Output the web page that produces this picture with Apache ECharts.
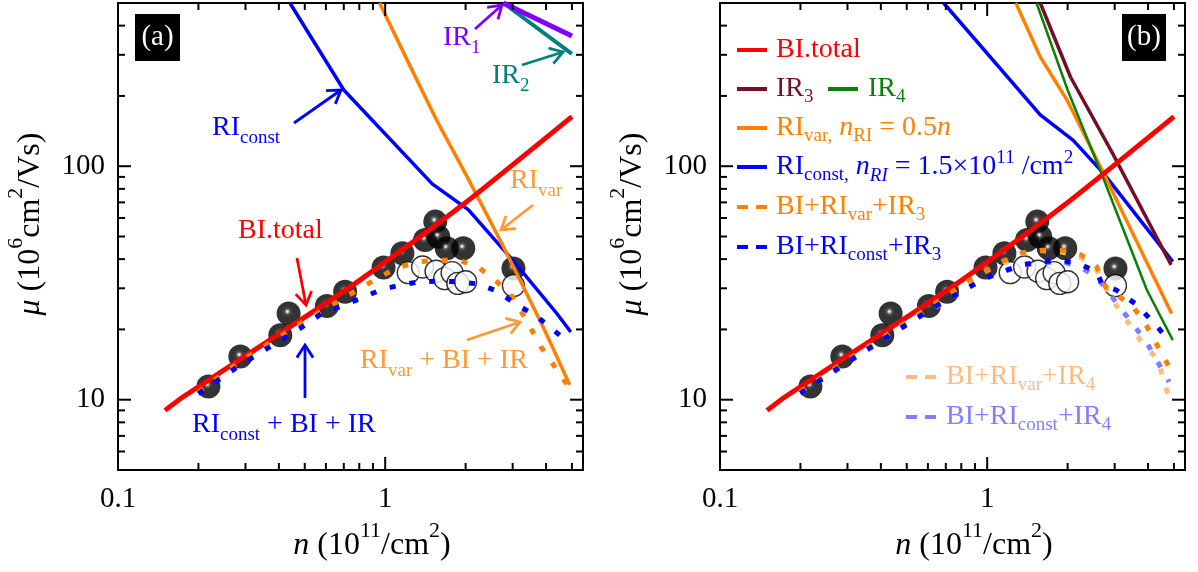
<!DOCTYPE html>
<html><head><meta charset="utf-8">
<script src="https://cdn.jsdelivr.net/npm/echarts@6/dist/echarts.min.js"></script>
<style>html,body{margin:0;padding:0;background:#fff}#c{width:1198px;height:572px}</style>
</head><body><div id="c"></div>
<script>
// ---------------- data ----------------
const spheres = [[0.218,11.4],[0.287,15.3],[0.405,18.9],[0.435,23.4],[0.605,25.2],[0.708,29.0],[0.986,36.8],[1.16,42.4],[1.41,48.3],[1.54,57.9],[1.58,49.9],[1.70,44.5],[1.96,44.5],[3.02,36.5]];
const openCircles = [[1.22,35],[1.38,37],[1.55,35.5],[1.67,33],[1.78,35],[1.87,31.5],[2.0,32],[3.02,30.8]];
const biTotal = [[0.15,9.0],[0.1755,10.3],[0.481,21.9],[0.807,32.6],[1.94,68],[5.0,163]];
// panel (a)
const riConstA = [[0.44,500],[0.70,212],[1.5,84],[2.05,65],[3.0,39.6],[4.39,23.4],[4.95,19.5]];
const riVarA = [[0.953,500],[1.53,164],[2.02,90.6],[2.69,48.3],[3.86,21],[4.9,11.6]];
const ir1A = [[2.77,500],[5.0,361]];
const ir2A = [[2.77,500],[5.0,303]];
const sumVarA = [[0.2,10.8],[0.287,14.6],[0.5,21.8],[0.807,30],[0.957,33.6],[1.12,36.9],[1.35,39],[1.61,39.6],[1.88,39.6],[2.23,37],[2.62,32],[3.0,27.5],[3.4,21.6],[3.82,16.9],[4.8,11.6]];
const sumConstA = [[0.2,10.6],[0.287,14.1],[0.48,20.2],[0.57,23.1],[0.81,27.2],[0.96,29.5],[1.14,31],[1.35,32],[1.6,32.2],[1.9,32],[2.23,31.3],[2.62,29.2],[3.05,25.9],[3.7,22.7],[4.5,18.9]];
// panel (b)
const ir3B = [[1.58,500],[2.05,241],[2.94,114],[4.88,37.8]];
const ir4B = [[1.53,500],[2.0,212],[2.73,88],[3.96,29.5],[4.95,18]];
const riVarB = [[1.28,500],[1.58,294],[1.99,192],[2.73,93],[4.9,23.4]];
const riConstB = [[0.687,500],[1.58,166],[2.1,129],[2.73,93],[4.95,39]];
const sumVarIR3B = [[0.2,10.8],[0.3,14.8],[0.5,21.5],[0.684,27],[0.80,31],[0.953,34.8],[1.13,39],[1.345,42.4],[1.6,43.7],[1.9,43.7],[2.25,41.7],[2.57,37.1],[2.77,30.5],[3.52,25],[3.96,20.6],[4.8,13.8]];
const sumConstIR3B = [[0.2,10.65],[0.3,14.5],[0.5,21],[0.684,26.3],[0.802,29],[0.953,32.6],[1.13,35.3],[1.345,37.8],[1.6,39],[1.9,39.6],[2.25,37.8],[2.57,35.3],[2.7,31],[3.04,29.5],[3.63,25.5],[4.27,20.9],[4.88,17.5]];
const sumVarIR4B = [[0.2,10.8],[0.5,21.5],[0.953,34.8],[1.345,42.4],[1.6,43.5],[1.9,43],[2.25,40.5],[2.57,36],[2.89,27.6],[3.70,18.3],[4.35,14.8],[4.8,10.1]];
const sumConstIR4B = [[0.2,10.65],[0.5,21],[0.953,32.6],[1.345,37.6],[1.6,38.6],[1.9,39],[2.25,36.8],[2.57,33.5],[2.9,28],[3.94,17.7],[4.8,11.9]];
// axes
const xRange = [0.1, 5.5];
const yRange = [5, 500];
const xTickValues = [0.1,0.2,0.3,0.4,0.5,0.6,0.7,0.8,0.9,1,2,3,4,5];
const yTickValues = [6,7,8,9,10,20,30,40,50,60,70,80,90,100,200,300,400];
const xTickLabels = ['0.1','1'];
const yTickLabels = ['10','100'];

// ---------------- styling ----------------
const FF = '"Liberation Serif", "Times New Roman", serif';
const C = {red:'#ff0000', blue:'#0000ff', orange:'#ff8000', orangeLbl:'#ff9933', purple:'#8000ff', teal:'#008080',
  maroon:'#750f25', green:'#0a7f0a', lorange:'#fdbb80', lblue:'#8080ff'};
const rects = [{x:118,y:3,w:465,h:467},{x:720,y:3,w:465,h:467}];

function isDecade(v){const l=Math.log10(v);return Math.abs(l-Math.round(l))<1e-6;}
function decadeFmt(list){return function(v){if(!isDecade(v))return '';const r=Math.round(Math.log10(v));const s=r<0?Math.pow(10,r).toFixed(-r):String(Math.pow(10,r));return list.indexOf(s)>=0?s:'';};}

const sphereFill = {type:'radial',x:0.45,y:0.42,r:0.5,colorStops:[
  {offset:0,color:'#ffffff'},{offset:0.08,color:'#d0d0d0'},{offset:0.17,color:'#5a5a5a'},{offset:0.3,color:'#121212'},{offset:0.5,color:'#000000'},{offset:1,color:'#000000'}]};

function scatterS(data, gi, filled){
  return {type:'scatter', xAxisIndex:gi, yAxisIndex:gi, data:data, symbol:'circle', symbolSize: filled?24:22, z: filled?2:3,
    itemStyle: filled?{color:sphereFill,borderWidth:0}:{color:'#ffffff',borderColor:'#000',borderWidth:1.4}, silent:true};
}
function lineS(data, gi, color, width, dash, z, smooth){
  return {type:'line', xAxisIndex:gi, yAxisIndex:gi, data:data, symbol:'none', showSymbol:false, z:z||4, silent:true, clip:true,
    smooth: smooth||false,
    lineStyle:{color:color, width:width, type: dash||'solid', cap:'butt', join:'round'}};
}
const DOT = [6,14];

const xAxisBase = (gi)=>({type:'log', logBase:10, gridIndex:gi, min:xRange[0], max:xRange[1],
  axisLine:{show:false}, axisTick:{show:false}, splitLine:{show:false}, minorTick:{show:false},
  axisLabel:{formatter:decadeFmt(xTickLabels), fontFamily:FF, fontSize:29, color:'#000', margin:15, showMinLabel:true, showMaxLabel:true}});
const yAxisBase = (gi)=>({type:'log', logBase:10, gridIndex:gi, min:yRange[0], max:yRange[1],
  axisLine:{show:false}, axisTick:{show:false}, splitLine:{show:false}, minorTick:{show:false},
  axisLabel:{formatter:decadeFmt(yTickLabels), fontFamily:FF, fontSize:29, color:'#000', margin:13}});

const option = {
  animation:false, backgroundColor:'#ffffff',
  grid: rects.map(r=>({left:r.x, top:r.y, width:r.w, height:r.h, show:true, borderColor:'#000', borderWidth:2, backgroundColor:'transparent', containLabel:false})),
  xAxis:[xAxisBase(0), xAxisBase(1)],
  yAxis:[yAxisBase(0), yAxisBase(1)],
  series:[
    scatterS(spheres,0,true), scatterS(openCircles,0,false),
    lineS(riConstA,0,C.blue,3.5), lineS(riVarA,0,C.orange,3.5,null,4,0.2),
    lineS(ir2A,0,C.teal,4), lineS(ir1A,0,C.purple,5),
    lineS(biTotal,0,C.red,5,null,5,0.2),
    lineS(sumVarA,0,C.orange,5,DOT,6), lineS(sumConstA,0,C.blue,5,DOT,6),

    scatterS(spheres,1,true), scatterS(openCircles,1,false),
    lineS(riConstB,1,C.blue,3.5), lineS(riVarB,1,C.orange,3.5),
    lineS(ir3B,1,C.maroon,3.5), lineS(ir4B,1,C.green,2.5),
    lineS(biTotal,1,C.red,5,null,5,0.2),
    lineS(sumVarIR4B,1,C.lorange,5,DOT,6), lineS(sumConstIR4B,1,C.lblue,5,DOT,6),
    lineS(sumVarIR3B,1,C.orange,5,DOT,7), lineS(sumConstIR3B,1,C.blue,5,DOT,7)
  ]
};

const chart = echarts.init(document.getElementById('c'), null, {renderer:'canvas', width:1198, height:572});
chart.setOption(option);

// ---------------- decorations ----------------
function richSet(size, color, lh, subLH, supLH){
  const s = Math.round(size*0.68);
  const base = {fontFamily:FF, fill:color};
  return {
    m:Object.assign({fontSize:size, lineHeight:lh}, base),
    i:Object.assign({fontSize:size, lineHeight:lh, fontStyle:'italic'}, base),
    b:Object.assign({fontSize:s, lineHeight:subLH, verticalAlign:'bottom'}, base),
    bi:Object.assign({fontSize:s, lineHeight:subLH, verticalAlign:'bottom', fontStyle:'italic'}, base),
    p:Object.assign({fontSize:s, lineHeight:supLH, verticalAlign:'top'}, base)
  };
}
function txt(x, y, text, color, size, opt){
  opt = opt||{};
  const rich = richSet(size, color, opt.lh||40, opt.subLH||20, opt.supLH||20);
  return {type:'text', x:x, y:y, rotation:opt.rot||0, z:100,
    style:{text:text, rich:rich, fill:color, font: size+'px '+FF,
      align:opt.align||'left', verticalAlign:'middle', textAlign:opt.align||'left', textVerticalAlign:'middle'}};
}
function seg(x1,y1,x2,y2,color,w,dash){
  return {type:'line', z:90, shape:{x1:x1,y1:y1,x2:x2,y2:y2}, style:{stroke:color, lineWidth:w, lineDash:dash||null, lineCap:'butt'}};
}
function arrow(x1,y1,x2,y2,color){
  const a = Math.atan2(y2-y1,x2-x1), L=15, h=Math.PI/5.5;
  return [seg(x1,y1,x2,y2,color,2.8),
    {type:'polyline', z:90, shape:{points:[[x2-L*Math.cos(a-h), y2-L*Math.sin(a-h)],[x2,y2],[x2-L*Math.cos(a+h), y2-L*Math.sin(a+h)]]},
     style:{stroke:color, lineWidth:2.8, fill:null, lineJoin:'miter'}}];
}
function ticks(gi){
  const r = rects[gi], out=[];
  xTickValues.forEach(v=>{
    const px = chart.convertToPixel({xAxisIndex:gi}, v);
    const L = isDecade(v)?13:7;
    out.push(seg(px, r.y+r.h, px, r.y+r.h-L, '#000', 2));
    out.push(seg(px, r.y, px, r.y+L, '#000', 2));
  });
  yTickValues.forEach(v=>{
    const py = chart.convertToPixel({yAxisIndex:gi}, v);
    const L = isDecade(v)?13:7;
    out.push(seg(r.x, py, r.x+L, py, '#000', 2));
    out.push(seg(r.x+r.w, py, r.x+r.w-L, py, '#000', 2));
  });
  return out;
}

const TT = {lh:52, supLH:14};
let g = [];
g = g.concat(ticks(0), ticks(1));
// axis titles
[0,1].forEach(gi=>{
  const dx = gi===0?0:602;
  g.push(txt(372+dx, 546, '{i|n}{m| (10}{p|11}{m|/cm}{p|2}{m|)}', '#000', 32, {align:'center', lh:TT.lh, supLH:TT.supLH}));
  g.push(txt(31+dx, 224, '{i|μ}{m| (10}{p|6}{m|cm}{p|2}{m|/Vs)}', '#000', 32, {align:'center', rot:Math.PI/2, lh:TT.lh, supLH:TT.supLH}));
});
// panel tags
g.push({type:'rect', z:95, shape:{x:135,y:14,width:45,height:47}, style:{fill:'#000'}});
g.push(txt(157.5, 37.5, '{m|(a)}', '#fff', 29, {align:'center'}));
g.push({type:'rect', z:95, shape:{x:1122,y:14,width:44,height:47}, style:{fill:'#000'}});
g.push(txt(1144, 37.5, '{m|(b)}', '#fff', 29, {align:'center'}));

// panel (a) annotations
g.push(txt(443, 38, '{m|IR}{b|1}', C.purple, 28));
g = g.concat(arrow(475, 29, 502, 5, C.purple));
g.push(txt(492, 76, '{m|IR}{b|2}', C.teal, 28));
g = g.concat(arrow(522, 65, 563, 52, C.teal));
g.push(txt(212, 128, '{m|RI}{b|const}', C.blue, 28));
g = g.concat(arrow(294, 123, 341, 90, C.blue));
g.push(txt(238, 231, '{m|BI.total}', C.red, 28));
g = g.concat(arrow(297, 258, 306, 305, C.red));
g = g.concat(arrow(305, 398, 305, 345, C.blue));
g.push(txt(192, 425, '{m|RI}{b|const}{m| + BI + IR}', C.blue, 28));
g.push(txt(510, 181, '{m|RI}{b|var}', C.orangeLbl, 28));
g = g.concat(arrow(533, 205, 501, 230, C.orangeLbl));
g.push(txt(360, 361, '{m|RI}{b|var}{m| + BI + IR}', C.orangeLbl, 28));
g = g.concat(arrow(467, 340, 520, 322, C.orangeLbl));

// panel (b) legend
const LX = 737, TX = 776;
g.push(seg(LX,50,LX+30,50,C.red,4)); g.push(txt(TX,50,'{m|BI.total}',C.red,28,{lh:36}));
g.push(seg(LX,89,LX+30,89,C.maroon,4)); g.push(txt(TX,89,'{m|IR}{b|3}',C.maroon,28,{lh:36}));
g.push(seg(828,89,858,89,C.green,4)); g.push(txt(868,89,'{m|IR}{b|4}',C.green,28,{lh:36}));
g.push(seg(LX,128,LX+30,128,C.orange,4)); g.push(txt(TX,128,'{m|RI}{b|var,}{m| }{i|n}{b|RI}{m| = 0.5}{i|n}',C.orange,28,{lh:36}));
g.push(seg(LX,167,LX+30,167,C.blue,4)); g.push(txt(TX,167,'{m|RI}{b|const,}{m| }{i|n}{bi|RI}{m| = 1.5×10}{p|11}{m| /cm}{p|2}',C.blue,28,{lh:36}));
g.push(seg(LX,207,LX+30,207,C.orange,4,[11,8])); g.push(txt(TX,207,'{m|BI+RI}{b|var}{m|+IR}{b|3}',C.orange,28,{lh:36}));
g.push(seg(LX,247,LX+30,247,C.blue,4,[11,8])); g.push(txt(TX,247,'{m|BI+RI}{b|const}{m|+IR}{b|3}',C.blue,28,{lh:36}));
g.push(seg(906,377,936,377,C.lorange,4,[11,8])); g.push(txt(946,377,'{m|BI+RI}{b|var}{m|+IR}{b|4}',C.lorange,28,{lh:36}));
g.push(seg(906,417,936,417,C.lblue,4,[11,8])); g.push(txt(946,417,'{m|BI+RI}{b|const}{m|+IR}{b|4}',C.lblue,28,{lh:36}));

chart.setOption({graphic:{elements:g}});
</script></body></html>
